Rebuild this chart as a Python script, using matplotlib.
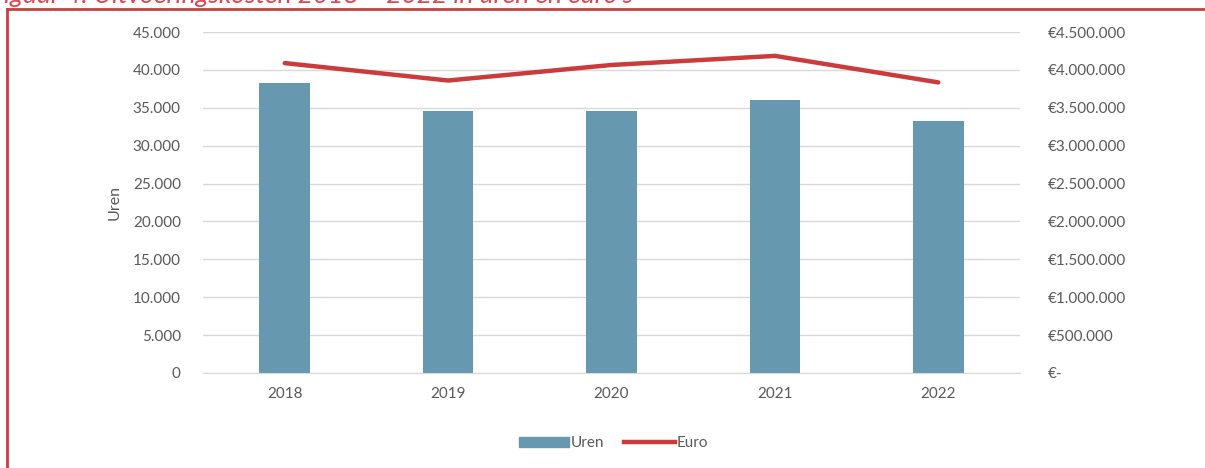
import numpy as np
import matplotlib.pyplot as plt
from matplotlib.patches import Patch
from matplotlib.lines import Line2D
from matplotlib.ticker import FuncFormatter

plt.rcParams['font.family'] = ['Lato', 'DejaVu Sans']

years = ['2018', '2019', '2020', '2021', '2022']
uren = [38300, 34600, 34600, 36000, 33250]
euro = [4090000, 3860000, 4065000, 4185000, 3835000]

bar_color = '#6699b0'
line_color = '#cc3b3b'
text_color = '#595959'


def dots(v):
    return f'{int(v):,}'.replace(',', '.')


def euro_fmt(v, pos):
    if v == 0:
        return '€-'
    return '€' + dots(v)


fig = plt.figure(figsize=(12.05, 4.68), dpi=100)
ax = fig.add_axes([0.1685, 0.203, 0.678, 0.7286])
x = np.arange(len(years))
ax.bar(x, uren, width=0.31, color=bar_color, zorder=2)
ax.set_xlim(-0.5, len(years) - 0.5)
ax.set_ylim(0, 45000)
ax.set_yticks(np.arange(0, 45001, 5000))
ax.yaxis.set_major_formatter(FuncFormatter(lambda v, p: dots(v)))
ax.set_xticks(x)
ax.set_xticklabels(years)
ax.grid(axis='y', color='#d9d9d9', linewidth=1, zorder=0)
ax.set_ylabel('Uren', fontsize=11.5, color=text_color, labelpad=8)
for s in ['top', 'right', 'left']:
    ax.spines[s].set_visible(False)
ax.spines['bottom'].set_color('#d9d9d9')
ax.tick_params(axis='both', length=0, labelsize=11, colors=text_color)
ax.tick_params(axis='y', pad=16)
ax.tick_params(axis='x', pad=10)

ax2 = ax.twinx()
ax2.plot(x, euro, color=line_color, linewidth=3.2, solid_capstyle='round', zorder=3)
ax2.set_ylim(0, 4500000)
ax2.set_yticks(np.arange(0, 4500001, 500000))
ax2.yaxis.set_major_formatter(FuncFormatter(euro_fmt))
for s in ['top', 'right', 'left', 'bottom']:
    ax2.spines[s].set_visible(False)
ax2.tick_params(axis='y', length=0, labelsize=11, colors=text_color, pad=20)

handles = [Patch(color=bar_color, label='Uren'),
           Line2D([0], [0], color=line_color, linewidth=3.2, label='Euro')]
fig.legend(handles=handles, loc='center', bbox_to_anchor=(0.509, 0.053), ncol=2,
           frameon=False, fontsize=11, labelcolor=text_color,
           handlelength=3.3, handletextpad=0.1, columnspacing=1.3)

# red frame (top and left edges)
fig.add_artist(Line2D([7 / 1205, 7 / 1205], [0, 1 - 9 / 468], transform=fig.transFigure,
                      color='#c94040', linewidth=2))
fig.add_artist(Line2D([7 / 1205, 1], [1 - 9 / 468, 1 - 9 / 468], transform=fig.transFigure,
                      color='#c94040', linewidth=2))

fig.text(-0.008, 1 - 3 / 468, "Figuur 4: Uitvoeringskosten 2018 – 2022 in uren en euro's",
         color='#d9474f', fontsize=19, style='italic', va='baseline', ha='left')

fig.savefig('out.png', dpi=100, facecolor='white')
